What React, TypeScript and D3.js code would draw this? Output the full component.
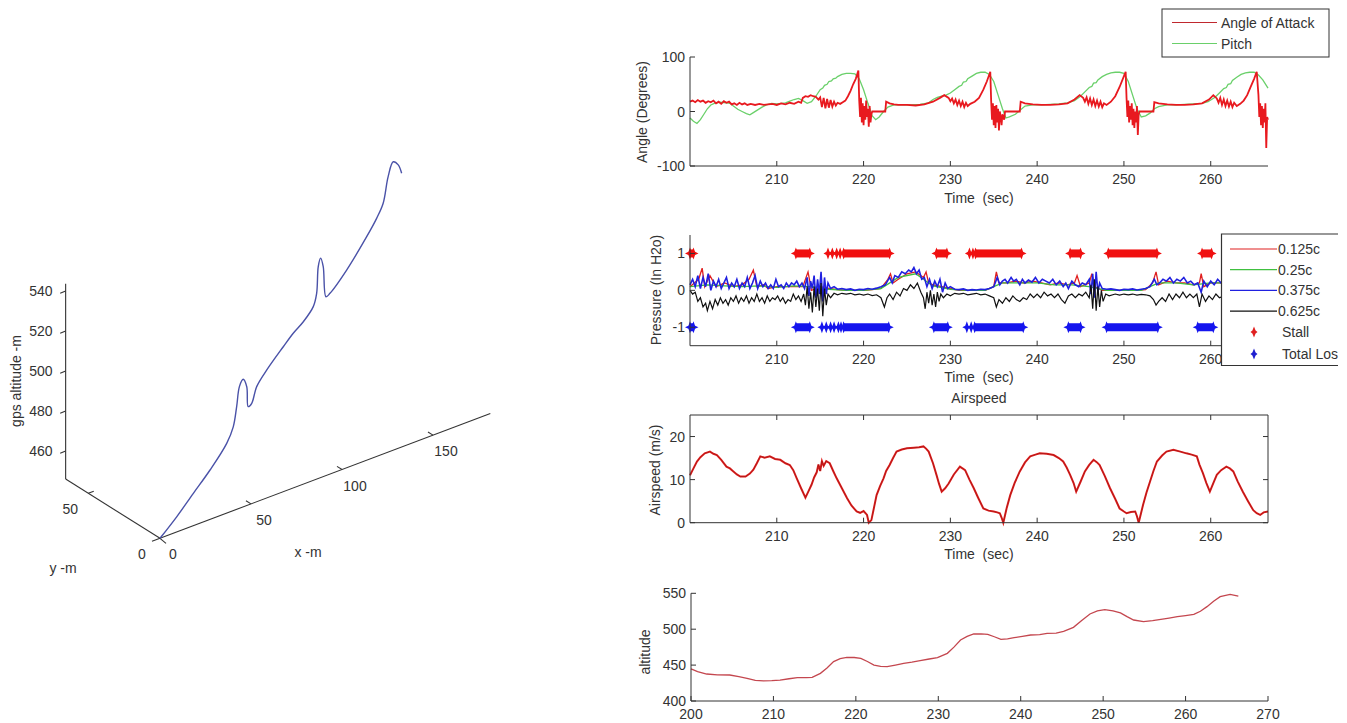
import React from "react";
import * as d3 from "d3";

const FONT = "'Liberation Sans', Arial, Helvetica, sans-serif";
const INK = "#333";

// ---- Angle plot: [time s, degrees]
const aoaData = [
  [200.0, 18], [200.3, 20], [200.6, 17], [200.9, 21], [201.2, 18], [201.5, 20], [201.8, 16], [202.1, 19],
  [202.4, 17], [202.7, 20], [203.0, 15], [203.3, 18], [203.6, 14], [203.9, 19], [204.2, 16], [204.5, 18],
  [204.8, 13], [205.1, 15], [205.4, 12], [205.7, 16], [206.0, 13], [206.3, 15], [206.6, 12], [207.0, 14],
  [207.5, 12], [208.0, 14], [208.5, 12], [209.0, 13], [209.5, 14], [210.0, 12], [210.5, 15], [211.0, 13],
  [211.5, 16], [212.0, 14], [212.5, 18], [212.8, 16], [213.0, 25], [213.3, 28], [213.6, 27], [213.9, 30],
  [214.2, 28], [214.5, 27], [214.8, 22], [215.0, 26], [215.2, 8], [215.4, 25], [215.6, 6], [215.8, 23],
  [216.0, 7], [216.2, 21], [216.4, 9], [216.6, 18], [216.8, 11], [217.0, 16], [217.3, 14], [217.6, 17],
  [217.9, 20], [218.2, 28], [218.5, 38], [218.8, 50], [219.1, 60], [219.4, 75], [219.5, 20], [219.6, -10],
  [219.7, 25], [219.8, -20], [219.9, 15], [220.0, -25], [220.1, 10], [220.2, -15], [220.3, 20], [220.4, -10],
  [220.5, 5], [220.6, -28], [220.7, 10], [220.8, -20], [220.9, -5], [221.0, 0], [222.5, 0], [222.6, 18],
  [223.0, 15], [223.5, 13], [224.0, 12], [225.0, 12], [226.0, 11], [227.0, 13], [228.0, 18], [228.8, 25],
  [229.3, 30], [229.8, 25], [230.0, 19], [230.2, 24], [230.4, 15], [230.6, 22], [230.8, 12], [231.0, 20],
  [231.2, 10], [231.4, 18], [231.6, 8], [231.8, 16], [232.0, 10], [232.3, 14], [232.8, 18], [233.3, 25],
  [233.8, 40], [234.2, 55], [234.6, 73], [234.7, 20], [234.8, -15], [234.9, 15], [235.0, -25], [235.1, 10],
  [235.2, -30], [235.3, 12], [235.4, -20], [235.5, 5], [235.6, -35], [235.7, 0], [235.8, -10], [235.9, -25],
  [236.0, -5], [236.2, -15], [236.3, 0], [238.0, 0], [238.1, 18], [238.6, 15], [239.5, 13], [240.5, 12],
  [241.5, 12], [242.5, 13], [243.5, 15], [244.3, 22], [244.9, 30], [245.3, 25], [245.5, 18], [245.7, 26],
  [245.9, 14], [246.1, 24], [246.3, 12], [246.5, 22], [246.7, 10], [246.9, 20], [247.1, 9], [247.3, 18],
  [247.5, 8], [247.7, 15], [248.0, 12], [248.5, 18], [249.0, 28], [249.5, 45], [250.0, 65], [250.2, 73],
  [250.3, 25], [250.4, -10], [250.5, 20], [250.6, -20], [250.7, 10], [250.8, -15], [250.9, 15], [251.0, -25],
  [251.1, 5], [251.2, -30], [251.3, 0], [251.4, -20], [251.5, 10], [251.6, -43], [251.7, -5], [251.8, 0],
  [253.4, 0], [253.5, 17], [254.0, 15], [255.0, 13], [256.0, 12], [257.0, 12], [258.0, 13], [259.0, 15],
  [259.8, 22], [260.3, 30], [260.7, 24], [260.9, 16], [261.1, 25], [261.3, 12], [261.5, 22], [261.7, 10],
  [261.9, 20], [262.1, 9], [262.3, 18], [262.5, 8], [262.7, 16], [263.0, 10], [263.4, 14], [263.8, 20],
  [264.2, 30], [264.6, 45], [265.0, 60], [265.3, 73], [265.5, 30], [265.6, -10], [265.7, 15], [265.8, -25],
  [265.9, 10], [266.0, -30], [266.1, 5], [266.2, -20], [266.3, 15], [266.4, -67], [266.5, -10], [266.6, -15],
];

const pitchData = [
  [200.0, -12], [200.4, -18], [200.8, -22], [201.2, -15], [201.6, -5], [202.0, 5], [202.4, 12], [202.8, 15],
  [203.5, 17], [204.2, 16], [204.6, 15], [205.0, 10], [205.5, 4], [206.0, 0], [206.5, -4], [206.9, -6],
  [207.3, -2], [207.8, 3], [208.3, 8], [208.8, 12], [209.4, 15], [210.0, 14], [210.5, 15], [211.0, 16],
  [211.5, 19], [212.0, 22], [212.5, 24], [213.0, 20], [213.5, 15], [214.0, 18], [214.5, 28], [215.0, 40],
  [215.3, 43], [215.5, 48], [215.8, 50], [216.0, 55], [216.3, 56], [216.5, 60], [216.8, 61], [217.0, 64],
  [217.5, 68], [218.0, 70], [218.5, 70], [219.0, 69], [219.5, 60], [220.0, 40], [220.5, 15], [221.0, -8],
  [221.4, -15], [221.8, -10], [222.3, 0], [222.8, 8], [223.5, 12], [224.5, 12], [225.5, 12], [226.5, 13],
  [227.5, 16], [228.0, 22], [228.5, 26], [229.0, 28], [229.5, 30], [230.0, 34], [230.5, 40], [231.0, 46],
  [231.3, 48], [231.5, 54], [231.8, 55], [232.0, 60], [232.5, 65], [233.0, 70], [233.5, 72], [234.0, 72],
  [234.5, 68], [235.0, 55], [235.5, 30], [236.0, 5], [236.4, -12], [236.8, -10], [237.5, -5], [238.0, 2],
  [238.6, 10], [239.5, 12], [240.5, 12], [241.5, 13], [242.5, 14], [243.5, 16], [244.3, 20], [245.0, 28],
  [245.5, 36], [246.0, 44], [246.3, 46], [246.5, 52], [246.8, 53], [247.0, 58], [247.5, 64], [248.0, 68],
  [248.5, 71], [249.0, 72], [249.5, 72], [250.0, 70], [250.5, 55], [251.0, 30], [251.5, 5], [252.0, -10],
  [252.5, -8], [253.0, -3], [253.5, 5], [254.0, 9], [255.0, 12], [256.0, 12], [257.0, 13], [258.0, 14],
  [259.0, 15], [259.7, 18], [260.5, 26], [261.0, 34], [261.5, 42], [261.8, 44], [262.0, 50], [262.3, 51],
  [262.5, 57], [263.0, 63], [263.5, 68], [264.0, 71], [264.5, 72], [265.0, 72], [265.5, 67], [266.0, 58],
  [266.6, 43],
];

// ---- Pressure plot: [time s, in H2O]
const p125Data = [
  [200.0, 0.1], [200.5, 0.2], [201.0, 0.3], [201.4, 0.6], [201.7, 0.1], [202.3, 0.4], [203.0, 0.1], [204.0, 0.2],
  [205.0, 0.1], [206.0, 0.15], [206.8, 0.3], [207.3, 0.55], [207.7, 0.1], [208.5, 0.15], [209.0, 0.05], [210.0, 0.1],
  [211.0, 0.1], [212.0, 0.1], [213.0, 0.1], [213.6, 0.5], [214.0, 0.0], [215.0, 0.1], [216.0, 0.05], [217.0, 0.02],
  [218.0, 0.0], [219.0, 0.0], [220.0, 0.0], [221.0, 0.02], [222.0, 0.05], [222.8, 0.3], [223.1, 0.45], [223.4, 0.2],
  [224.0, 0.3], [225.0, 0.45], [226.0, 0.5], [226.9, 0.35], [227.2, 0.5], [227.5, 0.2], [228.0, 0.15], [229.0, 0.1],
  [230.0, 0.05], [231.0, 0.0], [232.0, 0.0], [233.0, 0.0], [234.0, 0.0], [235.0, 0.1], [235.3, 0.5], [235.6, 0.2],
  [236.5, 0.2], [237.5, 0.25], [238.5, 0.2], [239.5, 0.25], [240.5, 0.2], [241.5, 0.15], [242.5, 0.2], [243.5, 0.15],
  [244.3, 0.2], [244.6, 0.4], [245.0, 0.1], [246.0, 0.2], [246.3, 0.45], [246.6, 0.1], [247.5, 0.0], [248.5, 0.0],
  [249.5, 0.0], [250.5, 0.0], [251.5, 0.0], [252.5, 0.02], [253.3, 0.2], [253.7, 0.5], [254.0, 0.15], [255.0, 0.25],
  [256.0, 0.2], [257.0, 0.2], [258.0, 0.15], [258.7, 0.2], [258.9, 0.45], [259.2, 0.1], [260.0, 0.2], [261.0, 0.2],
  [262.0, 0.2], [263.0, 0.2], [264.0, 0.2], [265.0, 0.15], [266.6, 0.15],
];

const p25Data = [
  [200, 0.1], [202, 0.15], [204, 0.12], [206, 0.1], [208, 0.12], [210, 0.08], [212, 0.12], [214, 0.1],
  [216, 0.03], [218, 0.0], [220, 0.0], [222, 0.05], [224, 0.35], [226, 0.45], [228, 0.12], [230, 0.03],
  [232, 0.0], [234, 0.0], [236, 0.2], [238, 0.2], [240, 0.2], [242, 0.15], [244, 0.15], [246, 0.1],
  [248, 0.0], [250, 0.0], [252, 0.0], [254, 0.2], [256, 0.2], [258, 0.15], [260, 0.2], [262, 0.2],
  [264, 0.2], [266.6, 0.15],
];

const p375Data = [
  [200.0, 0.15], [200.3, 0.3], [200.6, 0.1], [200.9, 0.4], [201.2, 0.05], [201.5, 0.35], [201.8, 0.1], [202.1, 0.45],
  [202.4, 0.0], [202.7, 0.25], [203.0, 0.1], [203.3, 0.3], [203.6, 0.05], [203.9, 0.2], [204.2, 0.35], [204.5, 0.05],
  [204.8, 0.2], [205.1, 0.1], [205.4, 0.3], [205.7, 0.05], [206.0, 0.2], [206.3, 0.1], [206.6, 0.35], [206.9, 0.05],
  [207.2, 0.2], [207.5, 0.4], [207.8, 0.05], [208.1, 0.25], [208.4, 0.1], [208.7, 0.2], [209.0, 0.05], [209.3, 0.15],
  [209.6, 0.05], [209.9, 0.3], [210.2, 0.1], [210.5, 0.15], [210.8, 0.05], [211.1, 0.2], [211.4, 0.1], [211.7, 0.2],
  [212.0, 0.15], [212.3, 0.25], [212.6, 0.1], [212.9, 0.2], [213.2, 0.05], [213.5, 0.35], [213.7, -0.15], [213.9, 0.25],
  [214.1, 0.05], [214.3, 0.4], [214.5, -0.2], [214.7, 0.3], [214.9, -0.1], [215.1, 0.5], [215.3, -0.3], [215.5, 0.35],
  [215.7, -0.1], [215.9, 0.2], [216.2, 0.05], [216.6, 0.1], [217.0, 0.03], [217.5, 0.05], [218.0, 0.02], [218.5, 0.04],
  [219.0, 0.0], [219.5, 0.03], [220.0, 0.02], [220.5, 0.05], [221.0, 0.03], [221.5, 0.06], [222.0, 0.1], [222.5, 0.15],
  [223.0, 0.35], [223.3, 0.2], [223.6, 0.4], [224.0, 0.35], [224.4, 0.5], [224.8, 0.45], [225.2, 0.55], [225.5, 0.5],
  [225.8, 0.62], [226.1, 0.45], [226.4, 0.55], [226.7, 0.3], [227.0, 0.35], [227.3, 0.1], [227.6, 0.3], [227.9, 0.05],
  [228.2, 0.25], [228.5, 0.1], [228.8, 0.3], [229.1, -0.05], [229.4, 0.2], [229.7, 0.05], [230.0, 0.1], [230.5, 0.03],
  [231.0, 0.02], [231.5, 0.04], [232.0, 0.0], [232.5, 0.02], [233.0, 0.01], [233.5, 0.03], [234.0, 0.02], [234.5, 0.05],
  [235.0, 0.1], [235.4, 0.35], [235.7, 0.15], [236.0, 0.25], [236.3, 0.3], [236.6, 0.2], [237.0, 0.35], [237.3, 0.25],
  [237.6, 0.3], [238.0, 0.15], [238.3, 0.3], [238.6, 0.2], [239.0, 0.28], [239.4, 0.22], [239.8, 0.35], [240.2, 0.2],
  [240.6, 0.3], [241.0, 0.25], [241.4, 0.2], [241.8, 0.3], [242.2, 0.15], [242.6, 0.25], [243.0, 0.1], [243.3, 0.2],
  [243.6, 0.05], [244.0, 0.25], [244.4, 0.15], [244.8, 0.1], [245.2, 0.2], [245.6, 0.15], [246.0, 0.3], [246.2, -0.1],
  [246.4, 0.45], [246.6, -0.2], [246.8, 0.5], [247.0, -0.05], [247.2, 0.2], [247.5, 0.05], [248.0, 0.03], [248.5, 0.04],
  [249.0, 0.02], [249.5, 0.0], [250.0, 0.03], [250.5, 0.02], [251.0, 0.04], [251.5, 0.01], [252.0, 0.03], [252.5, 0.05],
  [253.0, 0.1], [253.5, 0.3], [253.8, 0.15], [254.1, 0.2], [254.5, 0.3], [254.9, 0.25], [255.3, 0.35], [255.7, 0.2],
  [256.1, 0.3], [256.5, 0.25], [256.9, 0.35], [257.3, 0.2], [257.7, 0.25], [258.1, 0.15], [258.5, 0.2], [258.9, -0.05],
  [259.2, 0.25], [259.6, 0.1], [260.0, 0.25], [260.4, 0.15], [260.8, 0.3], [261.2, 0.2], [261.6, 0.25], [262.0, 0.15],
  [262.4, 0.3], [262.8, 0.2], [263.2, 0.25], [263.6, 0.15], [264.0, 0.3], [264.4, 0.2], [264.8, 0.25], [265.2, 0.15],
  [265.6, 0.2], [266.0, 0.1], [266.6, 0.2],
];

const p625Data = [
  [200.0, 0.0], [200.3, -0.1], [200.6, -0.05], [200.9, -0.3], [201.2, -0.2], [201.5, -0.45], [201.8, -0.35], [202.0, -0.55],
  [202.3, -0.3], [202.6, -0.5], [202.9, -0.25], [203.2, -0.4], [203.5, -0.2], [203.8, -0.35], [204.1, -0.25], [204.4, -0.4],
  [204.7, -0.2], [205.0, -0.3], [205.3, -0.15], [205.6, -0.35], [205.9, -0.2], [206.2, -0.3], [206.5, -0.15], [206.8, -0.35],
  [207.1, -0.2], [207.4, -0.3], [207.7, -0.1], [208.0, -0.3], [208.3, -0.2], [208.6, -0.35], [208.9, -0.15], [209.2, -0.3],
  [209.5, -0.2], [209.8, -0.25], [210.1, -0.15], [210.4, -0.3], [210.7, -0.2], [211.0, -0.35], [211.3, -0.25], [211.6, -0.3],
  [211.9, -0.1], [212.2, -0.25], [212.5, -0.15], [212.8, -0.3], [213.1, -0.1], [213.3, -0.4], [213.5, 0.1], [213.7, -0.5],
  [213.9, -0.05], [214.1, -0.6], [214.3, 0.1], [214.5, -0.45], [214.7, 0.05], [214.9, -0.55], [215.1, 0.2], [215.3, -0.7],
  [215.5, 0.05], [215.7, -0.4], [215.9, -0.1], [216.2, -0.2], [216.6, -0.08], [217.0, -0.12], [217.5, -0.08], [218.0, -0.1],
  [218.5, -0.08], [219.0, -0.12], [219.5, -0.1], [220.0, -0.13], [220.5, -0.1], [221.0, -0.14], [221.5, -0.12], [222.0, -0.2],
  [222.4, -0.45], [222.7, -0.2], [223.0, -0.1], [223.4, -0.25], [223.8, -0.05], [224.2, -0.15], [224.6, 0.05], [225.0, 0.0],
  [225.4, 0.15], [225.8, 0.05], [226.2, 0.2], [226.6, -0.05], [226.9, -0.2], [227.1, -0.5], [227.3, -0.05], [227.5, -0.35],
  [227.7, 0.0], [227.9, -0.4], [228.1, -0.1], [228.3, -0.45], [228.5, -0.05], [228.7, -0.3], [228.9, -0.1], [229.2, -0.2],
  [229.6, -0.1], [230.0, -0.15], [230.5, -0.08], [231.0, -0.1], [231.5, -0.08], [232.0, -0.12], [232.5, -0.1], [233.0, -0.08],
  [233.5, -0.12], [234.0, -0.1], [234.5, -0.15], [235.0, -0.2], [235.3, -0.45], [235.6, -0.25], [236.0, -0.35], [236.4, -0.2],
  [236.8, -0.3], [237.2, -0.15], [237.6, -0.25], [238.0, -0.3], [238.4, -0.2], [238.8, -0.25], [239.2, -0.1], [239.6, -0.2],
  [240.0, -0.1], [240.4, -0.2], [240.8, -0.05], [241.2, -0.15], [241.6, -0.1], [242.0, -0.2], [242.4, -0.1], [242.8, -0.25],
  [243.2, -0.35], [243.6, -0.15], [244.0, -0.1], [244.4, -0.2], [244.8, -0.1], [245.2, -0.15], [245.6, -0.05], [246.0, -0.2],
  [246.2, 0.15], [246.4, -0.5], [246.6, 0.3], [246.8, -0.55], [247.0, 0.1], [247.2, -0.45], [247.4, 0.0], [247.6, -0.3],
  [247.9, -0.1], [248.3, -0.15], [249.0, -0.1], [249.5, -0.13], [250.0, -0.1], [250.5, -0.12], [251.0, -0.1], [251.5, -0.13],
  [252.0, -0.11], [252.5, -0.12], [253.0, -0.15], [253.4, -0.25], [253.7, -0.4], [254.0, -0.3], [254.4, -0.2], [254.8, -0.3],
  [255.2, -0.1], [255.6, -0.25], [256.0, -0.1], [256.4, -0.2], [256.8, -0.05], [257.2, -0.2], [257.6, -0.1], [258.0, -0.2],
  [258.4, -0.1], [258.7, -0.45], [259.0, -0.1], [259.4, -0.3], [259.8, -0.15], [260.2, -0.25], [260.6, -0.1], [261.0, -0.2],
  [261.5, -0.15], [262.0, -0.3], [262.5, -0.2], [263.0, -0.25], [263.5, -0.15], [264.0, -0.3], [264.5, -0.1], [265.0, -0.2],
  [265.5, -0.15], [266.0, -0.05], [266.6, -0.1],
];

// stall (+1) and total loss (-1) markers: dense runs [start, end] and single marks
const stallSpans = [[200.0, 200.4], [212.2, 213.8], [217.7, 223.0], [228.4, 229.6], [232.9, 238.2], [243.8, 245.0], [248.2, 253.8], [259.0, 260.1]];
const stallDots = [215.9, 216.4, 216.9, 217.3, 232.2, 232.6];
const lossSpans = [[200.0, 200.4], [212.2, 213.8], [217.7, 222.9], [228.1, 229.7], [232.8, 238.4], [243.6, 245.0], [248.0, 253.9], [258.5, 260.3]];
const lossDots = [215.2, 215.7, 216.2, 216.6, 217.1, 217.4, 231.9, 232.4];

// ---- Airspeed: [time s, m/s]
const airspeedData = [
  [200.0, 11], [200.4, 12.6], [200.8, 14.2], [201.2, 15.2], [201.7, 16.1], [202.3, 16.5], [202.7, 16.0], [203.1, 15.7],
  [203.6, 14.6], [204.2, 13], [204.6, 12.6], [205.0, 11.9], [205.4, 11.2], [205.8, 10.7], [206.4, 10.7], [206.9, 11.4],
  [207.3, 12.3], [207.7, 13.8], [208.1, 15.4], [208.6, 15.1], [209.2, 15.4], [209.8, 14.8], [210.4, 14.6], [211.0, 13.8],
  [211.5, 13.4], [211.9, 12.2], [212.3, 10.3], [212.8, 8.0], [213.3, 5.8], [213.7, 7.5], [214.0, 8.8], [214.3, 10.5],
  [214.6, 11.7], [214.8, 13.5], [215.0, 12], [215.2, 14.3], [215.4, 13.2], [215.7, 14.3], [216.1, 13.8], [216.5, 12],
  [216.9, 10.3], [217.5, 8], [218.1, 5.7], [218.6, 4], [219.2, 2.6], [219.6, 2.3], [220.0, 2.7], [220.4, 1.8],
  [220.6, 0], [220.9, 0.6], [221.2, 3.5], [221.5, 6.4], [221.9, 8.5], [222.3, 10.3], [222.6, 12], [223.0, 13.4],
  [223.4, 15], [223.8, 16.5], [224.4, 17], [225.0, 17.3], [225.8, 17.4], [226.4, 17.5], [226.9, 17.7], [227.2, 17.2],
  [227.5, 16.5], [228.0, 13.8], [228.4, 11.1], [228.7, 9], [229.0, 7.2], [229.4, 8], [229.8, 9.1], [230.4, 11.2],
  [231.1, 13], [231.4, 12.6], [231.7, 12.2], [232.2, 10], [232.7, 8], [233.2, 5.8], [233.8, 3.3], [234.4, 2.8],
  [235.0, 2.6], [235.4, 2.4], [235.7, 2.2], [235.9, 1.2], [236.1, 0], [236.5, 3.5], [236.9, 6.4], [237.4, 9.2],
  [238.0, 11.9], [238.6, 14], [239.2, 15.4], [239.8, 15.8], [240.3, 16.1], [241.1, 16], [241.9, 15.7], [242.5, 15],
  [243.0, 14.2], [243.4, 12.8], [243.8, 11.1], [244.2, 9.2], [244.5, 7.2], [245.0, 9.5], [245.5, 11.9], [246.0, 13.4],
  [246.5, 14.6], [246.9, 14], [247.2, 13.4], [247.8, 10.8], [248.4, 8], [249.0, 5.5], [249.5, 3.3], [250.0, 2.6],
  [250.3, 2.2], [250.8, 2.5], [251.3, 2.6], [251.5, 1.5], [251.7, 0], [252.2, 4.1], [252.6, 7], [253.0, 9.5],
  [253.4, 12], [253.8, 14.2], [254.4, 15.6], [254.9, 16.5], [255.7, 16.9], [256.5, 16.5], [257.2, 16.1], [257.8, 15.8],
  [258.4, 15.4], [258.7, 13.5], [259.1, 11.5], [259.5, 9.2], [259.9, 7.2], [260.3, 9.2], [260.7, 11.1], [261.2, 12.2],
  [261.8, 13], [262.2, 12.6], [262.6, 11.9], [263.1, 9.6], [263.7, 7.2], [264.3, 5], [264.9, 2.9], [265.3, 2.2],
  [265.7, 1.8], [266.1, 2.4], [266.6, 2.6],
];

// ---- Altitude: [time s, m]
const altitudeData = [
  [200.0, 444.6], [200.8, 441], [201.9, 437.6], [203.2, 436.5], [204.7, 436.2], [205.8, 434], [206.8, 431.6], [207.8, 428.8],
  [208.8, 427.9], [209.8, 428.3], [210.8, 429.2], [211.9, 431], [212.9, 432.5], [214.0, 432.6], [214.7, 432.8], [215.7, 438.5],
  [216.5, 446], [217.3, 454.8], [218.1, 459], [218.9, 460.8], [219.8, 460.6], [220.6, 459.4], [221.4, 455], [222.2, 450.1],
  [223.0, 448.2], [223.8, 447.8], [224.8, 450], [225.8, 452.4], [226.8, 454], [227.8, 456.2], [228.9, 458.5], [229.9, 460.4],
  [231.1, 466.4], [231.9, 475], [232.7, 485], [233.5, 490], [234.3, 493.3], [235.2, 493.6], [236.0, 492.9], [236.8, 489.5],
  [237.6, 485.9], [238.4, 486.5], [239.2, 488.2], [240.2, 490], [241.2, 491.9], [242.3, 492.5], [243.2, 494.2], [244.3, 494.5],
  [245.2, 497], [246.4, 502.6], [247.4, 512], [248.4, 521.2], [249.3, 525.5], [250.2, 527.2], [251.2, 525.5], [252.1, 522.6],
  [252.9, 517.5], [253.7, 512.8], [254.9, 510.5], [256.0, 511.8], [257.0, 513.7], [258.0, 515.5], [259.0, 517.4], [260.0, 519],
  [261.0, 520.7], [261.8, 525], [262.6, 531.4], [263.4, 539], [264.2, 545.3], [265.4, 548.6], [266.4, 546.2],
];

// ---- 3D ground track (m)
const trajX = [0, 12.0, 24.0, 36.0, 48.0, 52.7, 55.2, 57.1, 59.9, 62.4, 63.5, 66.0, 69.6, 76.8, 88.7, 95.9, 103.1, 110.3, 112.7, 113.9, 115.6, 117.5, 119.4, 122.3, 134.3, 148.7, 155.9, 160.6, 164.2, 167.8, 171.4, 173.9];
const trajY = [0, 3.6, 7.2, 10.8, 14.4, 15.8, 16.6, 17.1, 18.0, 18.7, 19.1, 19.8, 20.9, 23.0, 26.6, 28.8, 30.9, 33.1, 33.8, 34.2, 34.7, 35.3, 35.8, 36.7, 40.3, 44.6, 46.8, 48.2, 49.3, 50.3, 51.4, 52.2];
const trajZ = [446, 451.0, 457.0, 462.9, 470.5, 476.5, 485.4, 494.5, 496.8, 491.9, 481.4, 481.9, 488.5, 493.4, 499.3, 502.6, 504.9, 509.0, 514.5, 527.3, 530.7, 525.5, 509.6, 509.9, 515.8, 525.6, 531.3, 536.6, 548.2, 553.9, 550.6, 545.2];

const xTicks3d = [0, 50, 100, 150];
const yTicks3d = [0, 50];
const zTicks3d = [460, 480, 500, 520, 540];
const timeTicks = [210, 220, 230, 240, 250, 260];
const altTimeTicks = [200, 210, 220, 230, 240, 250, 260, 270];

const xTime = d3.scaleLinear().domain([200, 266.6]).range([690, 1268]);
const yAngle = d3.scaleLinear().domain([-100, 100]).range([166, 57]);
const yPress = d3.scaleLinear().domain([-1.5, 1.5]).range([345.7, 235]);
const ySpeed = d3.scaleLinear().domain([0, 25]).range([522.7, 415]);
const xAlt = d3.scaleLinear().domain([200, 270]).range([691, 1268]);
const yAlt = d3.scaleLinear().domain([400, 550]).range([701, 593.3]);

// oblique projection for the 3D axes
const zPix = d3.scaleLinear().domain([446, 546]).range([0, 200]);
const proj = (x: number, y: number, z: number): [number, number] => [
  160 + 1.82 * x - 1.434 * y,
  538.3 - 0.688 * x - 0.9 * y - zPix(z),
];

const star = (cx: number, cy: number, rx = 5, ry = 6) =>
  `M${cx},${cy - ry}L${cx + 1.6},${cy - 1.6}L${cx + rx},${cy}L${cx + 1.6},${cy + 1.6}L${cx},${cy + ry}L${cx - 1.6},${cy + 1.6}L${cx - rx},${cy}L${cx - 1.6},${cy - 1.6}Z`;

function Frame({ xs, ys, xTicks, yTicks, box = false }: any) {
  const [xl, xr] = xs.range();
  const [yb, yt] = ys.range();
  return (
    <g stroke={INK} strokeWidth={1} fill="none">
      <line x1={xl} y1={yb} x2={xr} y2={yb} />
      <line x1={xl} y1={yb} x2={xl} y2={yt} />
      {box && <line x1={xl} y1={yt} x2={xr} y2={yt} />}
      {box && <line x1={xr} y1={yb} x2={xr} y2={yt} />}
      {xTicks.map((t: number) => (
        <g key={"x" + t}>
          <line x1={xs(t)} y1={yb} x2={xs(t)} y2={yb - 5} />
          {box && <line x1={xs(t)} y1={yt} x2={xs(t)} y2={yt + 5} />}
          <text x={xs(t)} y={yb + 18} textAnchor="middle" stroke="none" fill={INK}>{t}</text>
        </g>
      ))}
      {yTicks.map((t: number) => (
        <g key={"y" + t}>
          <line x1={xl} y1={ys(t)} x2={xl + 5} y2={ys(t)} />
          {box && <line x1={xr} y1={ys(t)} x2={xr - 5} y2={ys(t)} />}
          <text x={xl - 5} y={ys(t) + 5} textAnchor="end" stroke="none" fill={INK}>{t}</text>
        </g>
      ))}
    </g>
  );
}

const YLabel = ({ x, y, children }: any) => (
  <text transform={`translate(${x},${y}) rotate(-90)`} textAnchor="middle" dy="0.35em" fill={INK}>{children}</text>
);

const TimeLabel = ({ y }: any) => (
  <text x={979} y={y} textAnchor="middle" fill={INK} style={{ whiteSpace: "pre" }}>Time  (sec)</text>
);

export default function App() {
  const angLine = d3.line<number[]>().x((d) => xTime(d[0])).y((d) => yAngle(d[1]));
  const prLine = d3.line<number[]>().x((d) => xTime(d[0])).y((d) => yPress(d[1]));
  const spLine = d3.line<number[]>().x((d) => xTime(d[0])).y((d) => ySpeed(d[1]));
  const altLine = d3.line<number[]>().x((d) => xAlt(d[0])).y((d) => yAlt(d[1]));
  const trajLine = d3.line<number>()
    .x((i) => proj(trajX[i], trajY[i], trajZ[i])[0])
    .y((i) => proj(trajX[i], trajY[i], trajZ[i])[1])
    .curve(d3.curveCatmullRom);

  const markRow = (spans: number[][], dots: number[], v: number, color: string) => (
    <g fill={color} stroke="none">
      {spans.map(([s, e], i) => (
        <g key={i}>
          <rect x={xTime(s)} y={yPress(v) - 4} width={Math.max(0.5, xTime(e) - xTime(s))} height={8} />
          <path d={star(xTime(s), yPress(v), 5, 6)} />
          <path d={star(xTime(e), yPress(v), 5, 6)} />
        </g>
      ))}
      {dots.map((t, i) => <path key={"d" + i} d={star(xTime(t), yPress(v), 4.5, 6)} />)}
    </g>
  );

  const O = proj(0, 0, 446);
  const xEnd = proj(181.5, 0, 446);
  const yEnd = proj(0, 65.8, 446);
  const zTop = proj(0, 65.8, 543.7);

  const legendP = [
    { label: "0.125c", color: "#e02020" },
    { label: "0.25c", color: "#40c040" },
    { label: "0.375c", color: "#2020e0" },
    { label: "0.625c", color: "#111" },
  ];

  return (
    <div style={{ position: "absolute", left: 0, top: 0 }}>
      <svg width={1347} height={723} style={{ display: "block", background: "#fff" }} fontFamily={FONT} fontSize={14}>
        {/* ---- 3D trajectory ---- */}
        <g stroke={INK} strokeWidth={1.1} fill="none">
          <line x1={O[0]} y1={O[1]} x2={xEnd[0]} y2={xEnd[1]} />
          <line x1={O[0]} y1={O[1]} x2={yEnd[0]} y2={yEnd[1]} />
          <line x1={yEnd[0]} y1={yEnd[1]} x2={zTop[0]} y2={zTop[1]} />
          <line x1={O[0] - 8} y1={O[1] + 3} x2={O[0]} y2={O[1]} />
          <line x1={O[0]} y1={O[1]} x2={O[0] + 6} y2={O[1] + 5} />
          {xTicks3d.filter((t) => t > 0).map((t) => {
            const a = proj(t, 0, 446), b = proj(t, 3.5, 446);
            return <line key={"xt" + t} x1={a[0]} y1={a[1]} x2={b[0]} y2={b[1]} />;
          })}
          {yTicks3d.filter((t) => t > 0).map((t) => {
            const a = proj(0, t, 446), b = proj(3, t, 446);
            return <line key={"yt" + t} x1={a[0]} y1={a[1]} x2={b[0]} y2={b[1]} />;
          })}
          {zTicks3d.map((t) => {
            const a = proj(0, 65.8, t), b = proj(-3, 65.8, t);
            return <line key={"zt" + t} x1={a[0]} y1={a[1]} x2={b[0]} y2={b[1]} />;
          })}
        </g>
        <g fill={INK}>
          {xTicks3d.map((t) => {
            const a = proj(t, 0, 446);
            return <text key={"xl" + t} x={a[0] + 13} y={a[1] + 21} textAnchor="middle">{t}</text>;
          })}
          {yTicks3d.map((t) => {
            const a = proj(0, t, 446);
            return <text key={"yl" + t} x={a[0] - 18} y={a[1] + 21} textAnchor="middle">{t}</text>;
          })}
          {zTicks3d.map((t) => {
            const a = proj(0, 65.8, t);
            return <text key={"zl" + t} x={a[0] - 13} y={a[1] + 5} textAnchor="end">{t}</text>;
          })}
          <text x={308} y={557} textAnchor="middle">x -m</text>
          <text x={63} y={573} textAnchor="middle">y -m</text>
        </g>
        <YLabel x={16} y={381}>gps altitude -m</YLabel>
        <path d={trajLine(d3.range(trajX.length)) || ""} fill="none" stroke="#4a52a8" strokeWidth={1.4} />

        {/* ---- Angle plot ---- */}
        <path d={angLine(pitchData) || ""} fill="none" stroke="#6ad06a" strokeWidth={1.3} />
        <path d={angLine(aoaData) || ""} fill="none" stroke="#e8191f" strokeWidth={1.8} />
        <Frame xs={xTime} ys={yAngle} xTicks={timeTicks} yTicks={[-100, 0, 100]} />
        <YLabel x={642} y={112}>Angle (Degrees)</YLabel>
        <TimeLabel y={203} />
        <g>
          <rect x={1162} y={9} width={167} height={48} fill="#fff" stroke={INK} strokeWidth={1} />
          <line x1={1172} y1={22.5} x2={1217} y2={22.5} stroke="#c0282e" strokeWidth={1.2} />
          <line x1={1172} y1={43.5} x2={1217} y2={43.5} stroke="#6ad06a" strokeWidth={1.2} />
          <text x={1221} y={27.5} fill={INK}>Angle of Attack</text>
          <text x={1221} y={48.5} fill={INK}>Pitch</text>
        </g>

        {/* ---- Pressure plot ---- */}
        <path d={prLine(p125Data) || ""} fill="none" stroke="#e02020" strokeWidth={1.3} />
        <path d={prLine(p25Data) || ""} fill="none" stroke="#40c040" strokeWidth={1.3} />
        <path d={prLine(p375Data) || ""} fill="none" stroke="#2020e0" strokeWidth={1.6} />
        <path d={prLine(p625Data) || ""} fill="none" stroke="#111" strokeWidth={1.2} />
        {markRow(stallSpans, stallDots, 1, "#f01010")}
        {markRow(lossSpans, lossDots, -1, "#1515ee")}
        <Frame xs={xTime} ys={yPress} xTicks={timeTicks} yTicks={[-1, 0, 1]} />
        <YLabel x={656} y={290}>Pressure (In H2o)</YLabel>
        <TimeLabel y={382} />
        <g>
          <rect x={1221.5} y={234} width={125.5} height={131.5} fill="#fff" stroke="none" />
          <polyline points="1338,234 1221.5,234 1221.5,365.5 1338,365.5" fill="none" stroke={INK} strokeWidth={1.2} />
          {legendP.map((d, i) => (
            <g key={d.label}>
              <line x1={1230} y1={249 + i * 20.7} x2={1277} y2={249 + i * 20.7} stroke={d.color} strokeWidth={1.2} />
              <text x={1278} y={254 + i * 20.7} fill={INK}>{d.label}</text>
            </g>
          ))}
          <path d={star(1254, 332, 3.5, 5.5)} fill="#e02020" />
          <text x={1282} y={337} fill={INK}>Stall</text>
          <path d={star(1254, 354, 3.5, 5.5)} fill="#2020d0" />
          <text x={1282} y={359} fill={INK}>Total Los</text>
        </g>

        {/* ---- Airspeed plot ---- */}
        <text x={979} y={403} textAnchor="middle" fill={INK}>Airspeed</text>
        <path d={spLine(airspeedData) || ""} fill="none" stroke="#e3201f" strokeWidth={2} />
        <path d={spLine(airspeedData) || ""} fill="none" stroke="#5a0c0c" strokeWidth={0.6} opacity={0.55} />
        <Frame xs={xTime} ys={ySpeed} xTicks={timeTicks} yTicks={[0, 10, 20]} box />
        <YLabel x={655} y={470}>Airspeed (m/s)</YLabel>
        <TimeLabel y={559} />

        {/* ---- Altitude plot ---- */}
        <path d={altLine(altitudeData) || ""} fill="none" stroke="#c4474f" strokeWidth={1.3} />
        <Frame xs={xAlt} ys={yAlt} xTicks={altTimeTicks} yTicks={[400, 450, 500, 550]} />
        <YLabel x={645} y={652}>altitude</YLabel>
      </svg>
    </div>
  );
}
